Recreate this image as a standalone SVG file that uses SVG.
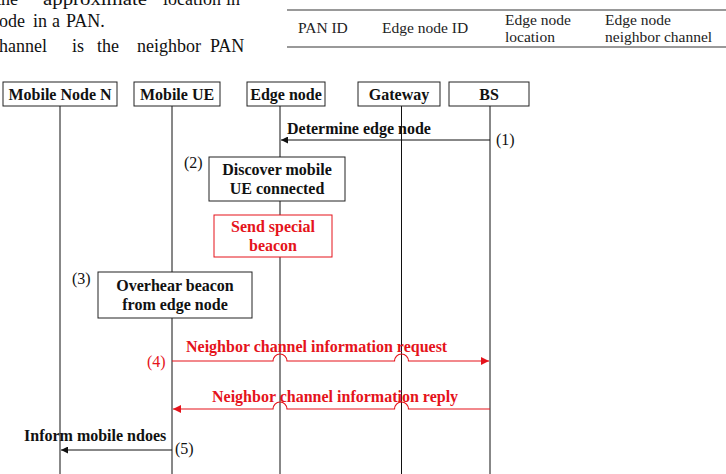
<svg xmlns="http://www.w3.org/2000/svg" width="726" height="474" viewBox="0 0 726 474">
<defs>
<style>
.p{font-family:"Liberation Serif","Times New Roman",serif;font-size:18px;fill:#111}
.h{font-family:"Liberation Serif","Times New Roman",serif;font-size:15.5px;fill:#222}
.b{font-family:"Liberation Serif","Times New Roman",serif;font-size:16px;font-weight:bold;fill:#111}
.br{font-family:"Liberation Serif","Times New Roman",serif;font-size:16px;font-weight:bold;fill:#e5131b}
.n{font-family:"Liberation Serif","Times New Roman",serif;font-size:16px;fill:#111}
.nr{font-family:"Liberation Serif","Times New Roman",serif;font-size:16px;fill:#e5131b}
.box{fill:#fff;stroke:#222;stroke-width:1}
.rbox{fill:#fff;stroke:#e5131b;stroke-width:1}
.life{stroke:#111;stroke-width:1;fill:none}
.msg{stroke:#111;stroke-width:1;fill:none}
.rmsg{stroke:#e5131b;stroke-width:1.2;fill:none}
</style>
<marker id="ab" viewBox="0 0 10 10" refX="10" refY="5" markerWidth="9" markerHeight="7" markerUnits="userSpaceOnUse" orient="auto"><path d="M0,0 L10,5 L0,10 Z" fill="#111"/></marker>
<marker id="ar" viewBox="0 0 10 10" refX="10" refY="5" markerWidth="10" markerHeight="8" markerUnits="userSpaceOnUse" orient="auto"><path d="M0,0 L10,5 L0,10 Z" fill="#e5131b"/></marker>
</defs>
<rect width="726" height="474" fill="#fff"/>

<g id="paragraph">
<text class="p" x="-4" y="5">the</text>
<text class="p" x="43" y="5" textLength="104" lengthAdjust="spacingAndGlyphs">approximate</text>
<text class="p" x="163" y="5">location</text>
<text class="p" x="226" y="5">in</text>
<text class="p" x="-1" y="27">ode</text>
<text class="p" x="33" y="27">in</text>
<text class="p" x="52" y="27">a</text>
<text class="p" x="66" y="27">PAN.</text>
<text class="p" x="-1" y="52">hannel</text>
<text class="p" x="72" y="52">is</text>
<text class="p" x="97" y="52">the</text>
<text class="p" x="137" y="52">neighbor</text>
<text class="p" x="210" y="52">PAN</text>
</g>

<g id="table">
<line x1="287" y1="10" x2="726" y2="10" stroke="#777" stroke-width="1.5"/>
<line x1="287" y1="47" x2="726" y2="47" stroke="#777" stroke-width="1.5"/>
<text class="h" x="298" y="33">PAN ID</text>
<text class="h" x="382" y="33">Edge node ID</text>
<text class="h" x="505" y="25">Edge node</text>
<text class="h" x="505" y="42">location</text>
<text class="h" x="605" y="25">Edge node</text>
<text class="h" x="605" y="42">neighbor channel</text>
</g>

<g id="lifelines">
<line class="life" x1="60" y1="106" x2="60" y2="474"/>
<line class="life" x1="172" y1="106" x2="172" y2="474"/>
<line class="life" x1="280" y1="106" x2="280" y2="474"/>
<line class="life" x1="401.5" y1="106" x2="401.5" y2="474" stroke="#444" stroke-width="1.3"/>
<line class="life" x1="490" y1="106" x2="490" y2="474"/>
</g>

<g id="node-mobile-node-n">
<rect class="box" x="3" y="82" width="114" height="24"/>
<text class="b" x="60" y="100" text-anchor="middle">Mobile Node N</text>
</g>
<g id="node-mobile-ue">
<rect class="box" x="134" y="82" width="86" height="24"/>
<text class="b" x="177" y="100" text-anchor="middle">Mobile UE</text>
</g>
<g id="node-edge-node">
<rect class="box" x="247" y="82" width="78" height="24"/>
<text class="b" x="286" y="100" text-anchor="middle">Edge node</text>
</g>
<g id="node-gateway">
<rect class="box" x="358" y="82" width="82" height="24"/>
<text class="b" x="399" y="100" text-anchor="middle">Gateway</text>
</g>
<g id="node-bs">
<rect class="box" x="449" y="82" width="80" height="24"/>
<text class="b" x="489" y="100" text-anchor="middle">BS</text>
</g>

<g id="step2">
<rect class="box" x="209" y="157" width="136" height="44"/>
<text class="b" x="277" y="175" text-anchor="middle">Discover mobile</text>
<text class="b" x="277" y="194" text-anchor="middle">UE connected</text>
<text class="n" x="184" y="168">(2)</text>
</g>
<g id="send-beacon">
<rect class="rbox" x="214" y="215" width="118" height="42"/>
<text class="br" x="273" y="232" text-anchor="middle">Send special</text>
<text class="br" x="273" y="251" text-anchor="middle">beacon</text>
</g>
<g id="step3">
<rect class="box" x="98" y="272" width="154" height="46"/>
<text class="b" x="175" y="291" text-anchor="middle">Overhear beacon</text>
<text class="b" x="175" y="310" text-anchor="middle">from edge node</text>
<text class="n" x="72" y="284">(3)</text>
</g>

<g id="connectors">
<path class="msg" d="M490,140 H281" marker-end="url(#ab)"/>
<path class="rmsg" d="M172,361 H273 A7,7 0 0 1 287,361 H394.5 A7,7 0 0 1 408.5,361 H489" marker-end="url(#ar)"/>
<path class="rmsg" d="M490,409 H408.5 A7,7 0 0 0 394.5,409 H287 A7,7 0 0 0 273,409 H173" marker-end="url(#ar)"/>
<path class="msg" d="M172,450 H61" marker-end="url(#ab)"/>
</g>

<g id="labels">
<text class="b" x="287" y="134">Determine edge node</text>
<text class="n" x="496" y="145">(1)</text>
<text class="br" x="186" y="352">Neighbor channel information request</text>
<text class="nr" x="147" y="367">(4)</text>
<text class="br" x="212" y="402">Neighbor channel information reply</text>
<text class="b" x="24" y="441">Inform mobile ndoes</text>
<text class="n" x="175" y="454">(5)</text>
</g>
</svg>
